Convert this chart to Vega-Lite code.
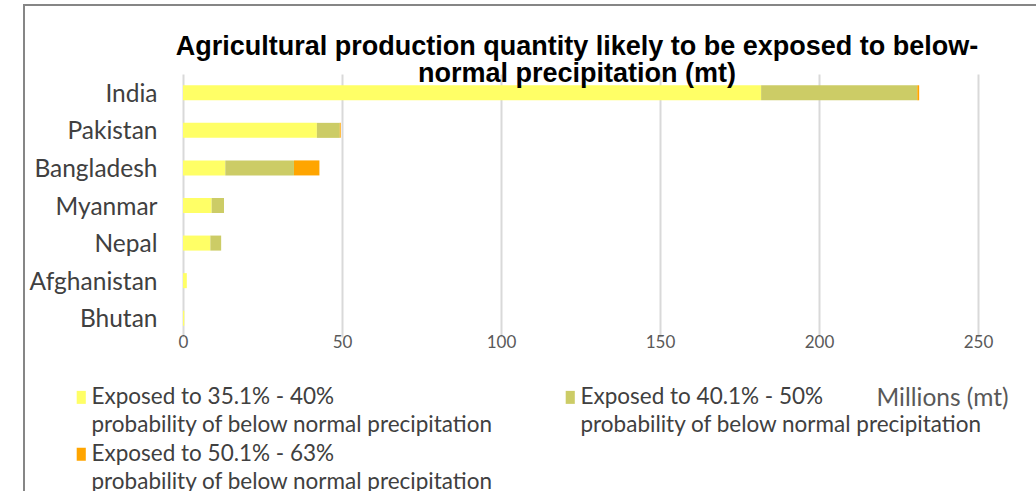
{
  "$schema": "https://vega.github.io/schema/vega-lite/v6.json",
  "autosize": {"type": "none"},
  "padding": {"left": 24, "top": 5, "right": 0, "bottom": 0},
  "width": 1014,
  "height": 488,
  "background": "white",
  "config": {
    "view": {"stroke": "#868686", "strokeWidth": 2},
    "font": "Lato"
  },
  "title": {
    "text": ["Agricultural production quantity likely to be exposed to below-", "normal precipitation (mt)"],
    "font": "Liberation Sans",
    "fontSize": 27,
    "fontWeight": "bold",
    "color": "#000000",
    "lineHeight": 27,
    "anchor": "middle",
    "frame": "group",
    "orient": "top",
    "offset": -83,
    "dx": 46
  },
  "data": {
    "values": [
      {"country": "India", "category": "Exposed to 35.1% - 40% probability of below normal precipitation", "value": 181.8},
      {"country": "India", "category": "Exposed to 40.1% - 50% probability of below normal precipitation", "value": 49.1},
      {"country": "India", "category": "Exposed to 50.1% - 63% probability of below normal precipitation", "value": 0.6},
      {"country": "Pakistan\u00a0", "category": "Exposed to 35.1% - 40% probability of below normal precipitation", "value": 42.1},
      {"country": "Pakistan\u00a0", "category": "Exposed to 40.1% - 50% probability of below normal precipitation", "value": 7.2},
      {"country": "Pakistan\u00a0", "category": "Exposed to 50.1% - 63% probability of below normal precipitation", "value": 0.3},
      {"country": "Bangladesh\u00a0", "category": "Exposed to 35.1% - 40% probability of below normal precipitation", "value": 13.3},
      {"country": "Bangladesh\u00a0", "category": "Exposed to 40.1% - 50% probability of below normal precipitation", "value": 21.6},
      {"country": "Bangladesh\u00a0", "category": "Exposed to 50.1% - 63% probability of below normal precipitation", "value": 8.0},
      {"country": "Myanmar", "category": "Exposed to 35.1% - 40% probability of below normal precipitation", "value": 9.0},
      {"country": "Myanmar", "category": "Exposed to 40.1% - 50% probability of below normal precipitation", "value": 3.9},
      {"country": "Nepal", "category": "Exposed to 35.1% - 40% probability of below normal precipitation", "value": 8.6},
      {"country": "Nepal", "category": "Exposed to 40.1% - 50% probability of below normal precipitation", "value": 3.4},
      {"country": "Afghanistan", "category": "Exposed to 35.1% - 40% probability of below normal precipitation", "value": 1.2},
      {"country": "Bhutan", "category": "Exposed to 35.1% - 40% probability of below normal precipitation", "value": 0.4}
    ]
  },
  "mark": {"type": "bar"},
  "encoding": {
    "y": {
      "field": "country",
      "type": "nominal",
      "sort": ["India", "Pakistan\u00a0", "Bangladesh\u00a0", "Myanmar", "Nepal", "Afghanistan", "Bhutan"],
      "scale": {"range": [69, 332], "paddingInner": 0.6, "paddingOuter": 0.3},
      "axis": {
        "orient": "left",
        "offset": -159,
        "domain": false,
        "ticks": false,
        "grid": false,
        "title": null,
        "labelFont": "Lato",
        "labelFontSize": 24.5,
        "labelColor": "#404040",
        "labelPadding": 26,
        "labelOffset": 2
      }
    },
    "x": {
      "field": "value",
      "type": "quantitative",
      "stack": "zero",
      "scale": {"domain": [0, 250], "range": [159, 954], "nice": false},
      "axis": {
        "orient": "top",
        "offset": -332,
        "domain": false,
        "ticks": false,
        "grid": true,
        "gridColor": "#d9d9d9",
        "gridWidth": 2,
        "values": [0, 50, 100, 150, 200, 250],
        "labelFlush": false,
        "labelFont": "Lato",
        "labelFontSize": 17,
        "labelColor": "#595959",
        "labelBaseline": "alphabetic",
        "labelPadding": -10,
        "title": "Millions (mt)",
        "titleX": 984,
        "titleY": 61,
        "titleAlign": "right",
        "titleBaseline": "middle",
        "titleFont": "Lato",
        "titleFontWeight": "normal",
        "titleFontSize": 24.5,
        "titleColor": "#595959"
      }
    },
    "color": {
      "field": "category",
      "type": "nominal",
      "scale": {
        "domain": [
          "Exposed to 35.1% - 40% probability of below normal precipitation",
          "Exposed to 40.1% - 50% probability of below normal precipitation",
          "Exposed to 50.1% - 63% probability of below normal precipitation"
        ],
        "range": ["#FFFF66", "#CCCC66", "#FFA500"]
      },
      "legend": {
        "orient": "none",
        "direction": "horizontal",
        "legendX": 46,
        "legendY": 381,
        "columns": 2,
        "title": null,
        "padding": 0,
        "symbolType": "M-0.7,-1H0.7V1H-0.7Z",
        "symbolSize": 169,
        "symbolStrokeWidth": 0,
        "labelFont": "Lato",
        "labelFontSize": 22.5,
        "labelColor": "#404040",
        "labelOffset": -1,
        "labelLimit": 600,
        "columnPadding": 65,
        "rowPadding": 6,
        "labelExpr": "[slice(datum.label, 0, indexof(datum.label, ' probability')), slice(datum.label, indexof(datum.label, ' probability') + 1)]",
        "encode": {"labels": {"update": {"lineHeight": {"value": 28}}}}
      }
    },
    "order": {"field": "category", "type": "nominal"}
  }
}
